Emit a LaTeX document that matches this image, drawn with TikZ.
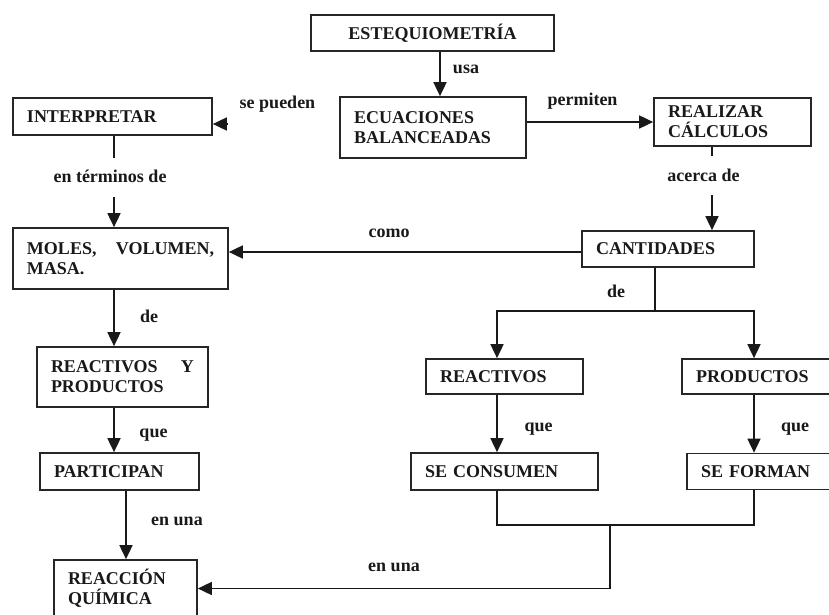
\documentclass[tikz,border=0pt]{standalone}
\usepackage{fontspec}
\setmainfont{Liberation Serif}
\usetikzlibrary{arrows.meta}
\begin{document}
\begin{tikzpicture}[x=1pt,y=-1pt,
  box/.style={draw=black!85, line width=1.7pt, inner xsep=14pt, inner ysep=0pt, align=left,
    font=\bfseries\fontsize{18}{20}\selectfont, text=black!90},
  lbl/.style={inner sep=0pt, font=\bfseries\fontsize{18}{20}\selectfont, text=black!90,
    text height=12pt, text depth=4pt},
  arr/.style={line width=1.7pt, draw=black!90, -{Triangle[length=14pt,width=13pt]}},
  ln/.style={line width=1.7pt, draw=black!90}]
\useasboundingbox (0,0) rectangle (829,615);
\fill[white] (0,0) rectangle (829,615);
\clip (0,0) rectangle (829,615);

% boxes
\node[box, align=center, text width=215pt, minimum height=36pt] (est) at (432.5,33) {ESTEQUIOMETRÍA};
\node[box, text width=158pt, minimum height=61pt] (ecu) at (433,127.5) {ECUACIONES\\BALANCEADAS};
\node[box, text width=129pt, minimum height=48pt] (real) at (732.5,122) {REALIZAR\\CÁLCULOS};
\node[box, text width=171pt, minimum height=37pt] (interp) at (112.5,116.5) {INTERPRETAR};
\node[box, text width=187pt, minimum height=61pt] (moles) at (120.5,258.5) {MOLES,\hfill VOLUMEN,\\MASA.};
\node[box, text width=144pt, minimum height=36pt] (cant) at (668,249) {CANTIDADES};
\node[box, text width=143pt, minimum height=60pt] (ryp) at (122.5,377) {REACTIVOS\hfill Y\\PRODUCTOS};
\node[box, text width=129pt, minimum height=35pt] (react) at (504.5,376.5) {REACTIVOS};
\node[box, text width=129pt, minimum height=35pt] (prod) at (760.5,376.5) {PRODUCTOS};
\node[box, text width=131pt, minimum height=37pt] (part) at (119.5,471.5) {PARTICIPAN};
\node[box, text width=159pt, minimum height=37pt] (cons) at (504.5,471.5) {SE CONSUMEN};
\node[box, text width=159pt, minimum height=36pt] (form) at (780.5,471.5) {SE FORMAN};
\node[box, text width=115pt, minimum height=57pt] (reac) at (125.5,588.5) {REACCIÓN\\QUÍMICA};

% labels
\node[lbl] (lusa) at (466,70) {usa};
\node[lbl] (lperm) at (582.5,102) {permiten};
\node[lbl] (lsp) at (277.5,105) {se pueden};
\node[lbl] (lterm) at (110,178) {en términos de};
\node[lbl] (lacer) at (703.5,177) {acerca de};
\node[lbl] (lcomo) at (389,233) {como};
\node[lbl] (lde1) at (149,318) {de};
\node[lbl] (lde2) at (616,293) {de};
\node[lbl] (lque1) at (153.5,433) {que};
\node[lbl] (lenuna1) at (177,521.5) {en una};
\node[lbl] (lque2) at (538.5,427) {que};
\node[lbl] (lque3) at (795,427) {que};
\node[lbl] (lenuna2) at (394,567) {en una};

% connectors
\draw[arr] ([xshift=7.5pt]est.south) -- ([xshift=7.5pt]est.south |- ecu.north);
\draw[arr] ([yshift=5.5pt]ecu.east) -- ([yshift=5.5pt]ecu.east -| real.west);
\coordinate (sp) at (228,124);
\draw[arr] (sp) -- (sp -| interp.east);

\draw[ln] ([xshift=1.5pt]interp.south) -- ++(0,22);
\coordinate (t1) at (114,197);
\draw[arr] (t1) -- (t1 |- moles.north);

\draw[ln] ([xshift=-20.5pt]real.south) -- ++(0,9);
\coordinate (t2) at (712,195);
\draw[arr] (t2) -- (t2 |- cant.north);

\draw[arr] ([yshift=-3pt]cant.west) -- ([yshift=-3pt]cant.west -| moles.east);
\draw[arr] ([xshift=-6.5pt]moles.south) -- ([xshift=-6.5pt]moles.south |- ryp.north);
\draw[arr] ([xshift=-8.5pt]ryp.south) -- ([xshift=-8.5pt]ryp.south |- part.north);
\draw[arr] ([xshift=6.5pt]part.south) -- ([xshift=6.5pt]part.south |- reac.north);

\coordinate (br) at (655,311);
\draw[ln] ([xshift=-13pt]cant.south) -- ([xshift=-13pt]cant.south |- br);
\draw[arr] (br) -| ([xshift=-7.5pt]react.north);
\draw[arr] (br) -| ([xshift=-6.5pt]prod.north);

\draw[arr] ([xshift=-7.5pt]react.south) -- ([xshift=-7.5pt]react.south |- cons.north);
\draw[arr] ([xshift=-6.5pt]prod.south) -- ([xshift=-6.5pt]prod.south |- form.north);

\coordinate (jn) at (610,525);
\draw[ln] ([xshift=-7.5pt]cons.south) |- (jn) -| ([xshift=-26.5pt]form.south);
\draw[arr] (jn) |- (reac.east);
\end{tikzpicture}
\end{document}
